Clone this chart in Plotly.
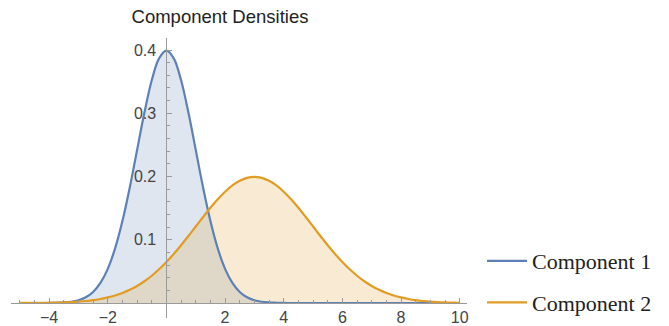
import plotly.graph_objects as go

# x sample points
x_values = [-5, -4.75, -4.5, -4.25, -4, -3.75, -3.5, -3.25, -3, -2.75, -2.5, -2.25,
            -2, -1.75, -1.5, -1.25, -1, -0.75, -0.5, -0.25, 0, 0.25, 0.5, 0.75,
            1, 1.25, 1.5, 1.75, 2, 2.25, 2.5, 2.75, 3, 3.25, 3.5, 3.75,
            4, 4.25, 4.5, 4.75, 5, 5.25, 5.5, 5.75, 6, 6.25, 6.5, 6.75,
            7, 7.25, 7.5, 7.75, 8, 8.25, 8.5, 8.75, 9, 9.25, 9.5, 9.75, 10]

component1 = [0, 0, 0, 0, 0.0001, 0.0004, 0.0009, 0.0020, 0.0044, 0.0091, 0.0175, 0.0317,
              0.0540, 0.0863, 0.1295, 0.1826, 0.2420, 0.3011, 0.3521, 0.3867, 0.3989, 0.3867, 0.3521, 0.3011,
              0.2420, 0.1826, 0.1295, 0.0863, 0.0540, 0.0317, 0.0175, 0.0091, 0.0044, 0.0020, 0.0009, 0.0004,
              0.0001, 0, 0, 0, 0, 0, 0, 0, 0, 0, 0, 0,
              0, 0, 0, 0, 0, 0, 0, 0, 0, 0, 0, 0, 0]

component2 = [0.0001, 0.0001, 0.0002, 0.0003, 0.0004, 0.0007, 0.0010, 0.0015, 0.0022, 0.0032, 0.0045, 0.0064,
              0.0088, 0.0119, 0.0159, 0.0209, 0.0270, 0.0344, 0.0431, 0.0533, 0.0648, 0.0775, 0.0913, 0.1059,
              0.1210, 0.1360, 0.1506, 0.1641, 0.1760, 0.1859, 0.1933, 0.1979, 0.1995, 0.1979, 0.1933, 0.1859,
              0.1760, 0.1641, 0.1506, 0.1360, 0.1210, 0.1059, 0.0913, 0.0775, 0.0648, 0.0533, 0.0431, 0.0344,
              0.0270, 0.0209, 0.0159, 0.0119, 0.0088, 0.0064, 0.0045, 0.0032, 0.0022, 0.0015, 0.0010, 0.0007, 0.0004]

series_names = ["Component 1", "Component 2"]
chart_title = "Component Densities"

x_tick_vals = [-4, -2, 2, 4, 6, 8, 10]
x_tick_text = ["\u22124", "\u22122", "2", "4", "6", "8", "10"]
y_tick_vals = [0.1, 0.2, 0.3, 0.4]
y_tick_text = ["0.1", "0.2", "0.3", "0.4"]

line_colors = ["#5E81B5", "#E19C24"]
fill_colors = ["rgba(94,129,181,0.2)", "rgba(225,156,36,0.2)"]

fig = go.Figure()
for i, ys in enumerate([component1, component2]):
    fig.add_trace(go.Scatter(x=x_values, y=ys, mode="lines", fill="tozeroy",
                             fillcolor=fill_colors[i], line=dict(width=0, shape="spline"),
                             showlegend=False, hoverinfo="skip"))
for i, ys in enumerate([component1, component2]):
    fig.add_trace(go.Scatter(x=x_values, y=ys, mode="lines", name=series_names[i],
                             line=dict(color=line_colors[i], width=2.2, shape="spline"),
                             legendgroup=series_names[i]))

axis_gray = "#9a9a9a"
tick_font = dict(family="Liberation Sans, Arial", size=16, color="#444444")

x_min, x_max = -5.3, 10.25
y_min, y_max = -0.0237, 0.419

fig.update_layout(
    width=669, height=326,
    margin=dict(l=11, r=202, t=38, b=8, autoexpand=False),
    paper_bgcolor="white", plot_bgcolor="white",
    title=dict(text=chart_title, x=220 / 669, xanchor="center", xref="container",
               y=1 - 17 / 326, yanchor="middle", yref="container",
               font=dict(family="Liberation Sans, Arial", size=18.5, color="#222222")),
    xaxis=dict(range=[x_min, x_max], anchor="free", position=(0 - y_min) / (y_max - y_min),
               automargin=False,
               showline=True, linecolor=axis_gray, linewidth=1, showgrid=False, zeroline=False,
               ticks="inside", ticklen=5, tickcolor=axis_gray, tickwidth=1,
               tickvals=x_tick_vals, ticktext=x_tick_text, tickfont=tick_font,
               minor=dict(ticks="inside", ticklen=3, tickcolor=axis_gray,
                          tickvals=[v * 0.5 for v in range(-10, 21)], showgrid=False)),
    yaxis=dict(range=[y_min, y_max], anchor="free", position=(0 - x_min) / (x_max - x_min),
               automargin=False,
               showline=True, linecolor=axis_gray, linewidth=1, showgrid=False, zeroline=False,
               ticks="inside", ticklen=5, tickcolor=axis_gray, tickwidth=1,
               tickvals=y_tick_vals, ticktext=y_tick_text, tickfont=tick_font,
               ticklabelstandoff=7,
               minor=dict(ticks="inside", ticklen=3, tickcolor=axis_gray,
                          tickvals=[v * 0.02 for v in range(1, 21)], showgrid=False)),
    legend=dict(x=482 / 669, xref="container", xanchor="left",
                y=1 - 240 / 326, yref="container", yanchor="top",
                font=dict(family="Liberation Serif, Times New Roman", size=22, color="#222222"),
                tracegroupgap=10, itemwidth=40, bgcolor="rgba(0,0,0,0)"),
)

fig.write_html("out.html", config={"displayModeBar": False},
               post_script="document.body.style.margin='0';document.body.style.overflow='hidden';")
